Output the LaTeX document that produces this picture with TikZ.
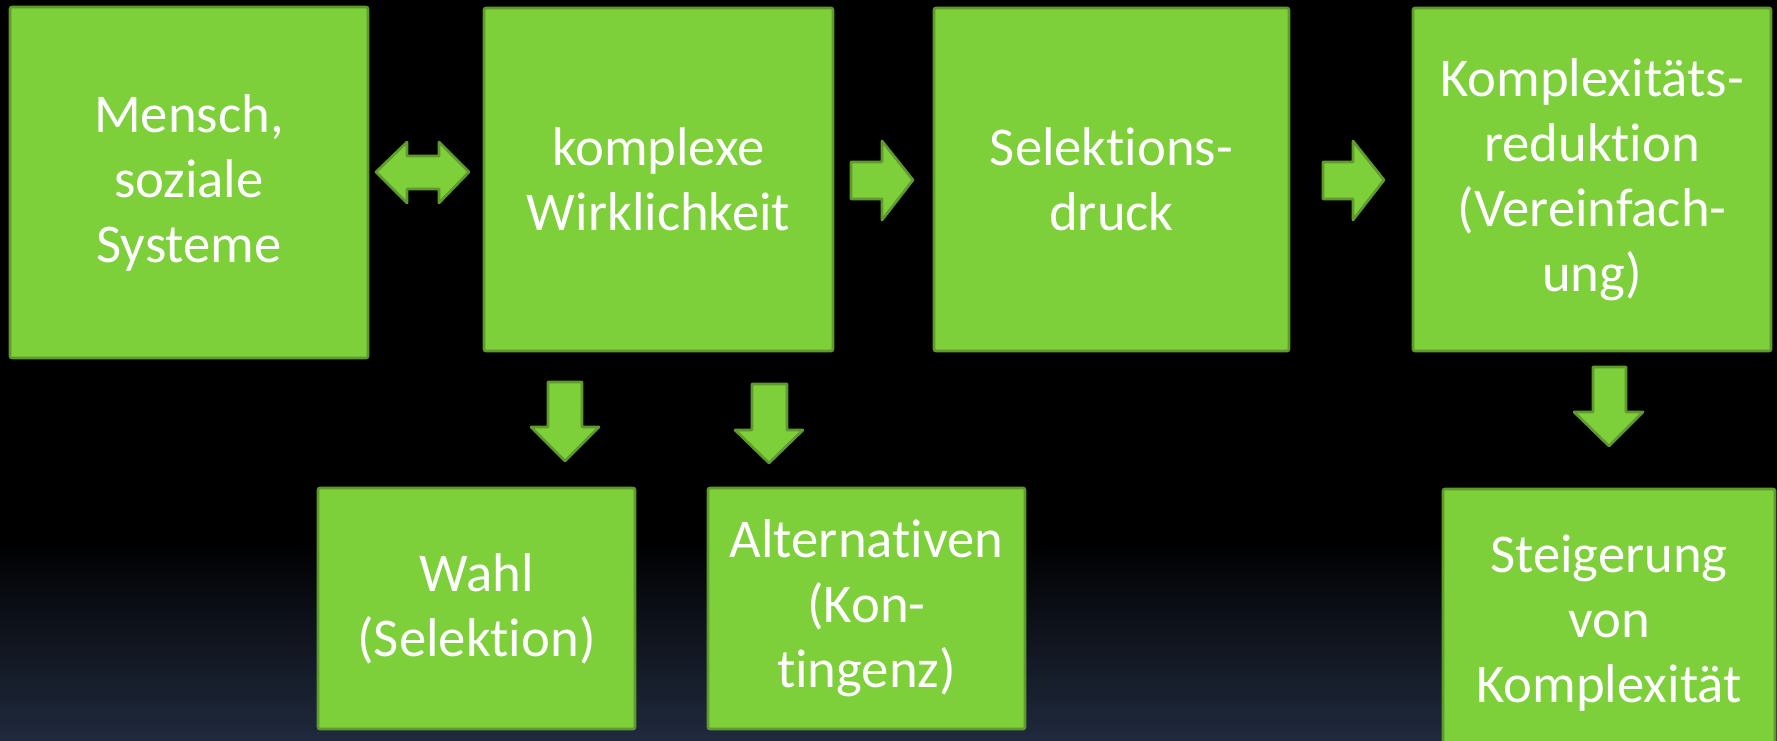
\documentclass[tikz,border=0pt]{standalone}
\usepackage{fontspec}
\setmainfont[Ligatures=NoCommon]{Carlito}
\definecolor{boxfill}{RGB}{126,208,59}
\definecolor{boxline}{RGB}{94,154,44}
\definecolor{bgbottom}{RGB}{32,42,62}
\begin{document}
\begin{tikzpicture}[x=0.75pt,y=-0.75pt,
  box/.style={draw=boxline,fill=boxfill,line width=2pt,rounded corners=1.5pt,
    text=white,align=center,inner sep=0pt,
    font=\fontsize{41}{48.75}\selectfont},
  blockarrow/.style={draw=boxline,fill=boxfill,line width=2pt,line join=round}]
\useasboundingbox (0,0) rectangle (1777,741);
\clip (0,0) rectangle (1777,741);
\fill[black] (0,0) rectangle (1777,741);
\shade[top color=black,bottom color=bgbottom] (0,540) rectangle (1777,741);

\node[box,minimum width=268.5pt,minimum height=263.25pt] (mensch) at (189,182.5) {Mensch,\\soziale\\Systeme};
\node[box,minimum width=261.75pt,minimum height=257.25pt] (wirk) at (658.5,179.5) {komplexe\\Wirklichkeit};
\node[box,minimum width=266.25pt,minimum height=257.25pt] (sel) at (1111.5,179.5) {Selektions-\\druck};
\node[box,minimum width=268.5pt,minimum height=257.25pt] (red) at (1592,179.5) {Komplexitäts-\\reduktion\\(Vereinfach-\\ung)};
\node[box,minimum width=237.75pt,minimum height=180.75pt] (wahl) at (476.5,608.5) {Wahl\\(Selektion)};
\node[box,minimum width=237.75pt,minimum height=180.75pt] (alt) at (866.5,608.5) {Alternativen\\(Kon-\\tingenz)};
\node[box,minimum width=249pt,minimum height=201pt] (steig) at (1609,623) {Steigerung\\von\\Komplexität};

% double arrow between mensch and wirk
\draw[blockarrow] (376,172) -- (407,142) -- (407,156) -- (439,156) -- (439,142) -- (469,172)
  -- (439,203) -- (439,189) -- (407,189) -- (407,203) -- cycle;
% right arrows
\draw[blockarrow] (851,162) -- (882,162) -- (882,141) -- (913,180) -- (882,220) -- (882,199) -- (851,199) -- cycle;
\draw[blockarrow] (1323,162) -- (1353,162) -- (1353,141) -- (1384,180) -- (1353,220) -- (1353,199) -- (1323,199) -- cycle;
% down arrows
\draw[blockarrow] (548,382) -- (582,382) -- (582,427) -- (599,427) -- (565,461) -- (531,427) -- (548,427) -- cycle;
\draw[blockarrow] (752,384) -- (787,384) -- (787,430) -- (803,430) -- (769,463) -- (735,430) -- (752,430) -- cycle;
\draw[blockarrow] (1593,367) -- (1626,367) -- (1626,412) -- (1643,412) -- (1609,446) -- (1574,412) -- (1593,412) -- cycle;
\end{tikzpicture}
\end{document}
